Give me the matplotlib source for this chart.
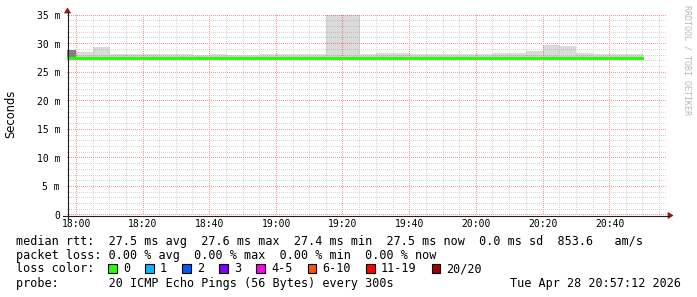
import matplotlib
matplotlib.use("Agg")
import matplotlib.pyplot as plt
import matplotlib.dates as mdates
from matplotlib.patches import Rectangle, Polygon
from matplotlib.lines import Line2D
from matplotlib.ticker import FuncFormatter, FixedLocator
from datetime import datetime, timedelta
import numpy as np

# ---------------- data ----------------
day = datetime(2026, 4, 28)
bin_minutes = 5
first_bin_end = day.replace(hour=18, minute=0)
n_bins = 35  # bins ending 18:00 ... 20:50
bin_end = [first_bin_end + timedelta(minutes=bin_minutes * i) for i in range(n_bins)]

median_ms = [27.5, 27.5, 27.5, 27.5, 27.5, 27.5, 27.5, 27.5, 27.4, 27.5,
             27.5, 27.5, 27.4, 27.4, 27.5, 27.5, 27.5, 27.5, 27.5, 27.5,
             27.5, 27.4, 27.5, 27.5, 27.5, 27.5, 27.5, 27.5, 27.5, 27.5,
             27.4, 27.5, 27.5, 27.5, 27.5]
smoke_max = [28.85, 28.6, 29.4, 28.2, 28.2, 28.2, 28.2, 28.1, 28.0, 28.2,
             28.0, 28.0, 28.2, 28.2, 28.1, 28.2, 36.0, 36.0, 28.1, 28.3,
             28.4, 28.2, 28.1, 28.1, 28.1, 28.1, 28.3, 28.3, 28.7, 29.8,
             29.5, 28.3, 28.1, 28.1, 28.1]
smoke_core = [27.95, 27.95, 28.0, 27.95, 27.95, 27.95, 27.9, 27.9, 27.85, 27.9,
              27.85, 27.85, 27.9, 27.9, 27.9, 27.9, 27.95, 27.95, 27.9, 27.95,
              27.95, 27.9, 27.9, 27.9, 27.9, 27.9, 27.95, 27.95, 27.95, 27.95,
              27.9, 27.95, 27.9, 27.9, 27.9]
smoke_min = [27.2, 27.3, 27.3, 27.3, 27.3, 27.3, 27.2, 27.2, 27.2, 27.2,
             27.2, 27.2, 27.2, 27.2, 27.2, 27.2, 27.2, 27.2, 27.2, 27.2,
             27.2, 27.2, 27.2, 27.2, 27.2, 27.2, 27.2, 27.2, 27.2, 27.2,
             27.2, 27.2, 27.2, 27.2, 27.2]
dense_top = [28.85] + [np.nan] * 34   # only the first (partial) bin shows dense smoke
loss_pings = [0] * 35

loss_labels = ["0", "1", "2", "3", "4-5", "6-10", "11-19", "20/20"]
loss_colors = ["#26ff00", "#00b8ff", "#0059ff", "#7e00ff", "#ff00ee",
               "#ff5500", "#ff0000", "#a00000"]

y_ticks = [0, 5, 10, 15, 20, 25, 30, 35]
y_minor = [v for v in range(0, 36) if v % 5 != 0]
t_start = day.replace(hour=17, minute=57, second=12)
t_end = day.replace(hour=20, minute=57, second=12)

line1 = "median rtt:  27.5 ms avg  27.6 ms max  27.4 ms min  27.5 ms now  0.0 ms sd  853.6   am/s"
line2 = "packet loss: 0.00 % avg  0.00 % max  0.00 % min  0.00 % now"
line3 = "loss color:"
line4 = "probe:       20 ICMP Echo Pings (56 Bytes) every 300s"
stamp = "Tue Apr 28 20:57:12 2026"
watermark = "RRDTOOL / TOBI OETIKER"

# ---------------- figure ----------------
W, H = 697, 297
AX_L, AX_T, AX_W, AX_H = 67, 15, 600, 200
fig = plt.figure(figsize=(W / 100, H / 100), dpi=100)
fig.patch.set_facecolor("white")


def px(x, y):
    return (x / W, 1 - y / H)


ax = fig.add_axes([AX_L / W, (H - AX_T - AX_H) / H, AX_W / W, AX_H / H])
ax.set_facecolor("white")

ends = mdates.date2num(bin_end)
width = bin_minutes / 1440.0
lo = np.array(smoke_min)
hi = np.array(smoke_max)
core = np.array(smoke_core)
dense = np.array(dense_top)

ax.bar(ends, hi - lo, bottom=lo, width=-width, align="edge",
       color="#dadada", linewidth=0, zorder=1)
ax.bar(ends, core - lo, bottom=lo, width=-width, align="edge",
       color="#cdcdcd", linewidth=0, zorder=1.1)
ax.bar(ends, dense - lo, bottom=lo, width=-width, align="edge",
       color="#808080", linewidth=0, zorder=1.2)

edges = np.concatenate([[ends[0] - width], ends])
ax.stairs(median_ms, edges, color=loss_colors[loss_pings[0]], linewidth=2.16,
          baseline=None, zorder=3, antialiased=False)

x0n, x1n = mdates.date2num(t_start), mdates.date2num(t_end)
ax.set_xlim(x0n, x1n)
ax.set_ylim(0, 35)

ax.set_yticks(y_ticks)
ax.yaxis.set_minor_locator(FixedLocator(y_minor))
ax.xaxis.set_major_locator(mdates.MinuteLocator(byminute=[0, 20, 40]))
ax.xaxis.set_minor_locator(mdates.MinuteLocator(
    byminute=[m for m in range(0, 60, 5) if m % 20 != 0]))
ax.xaxis.set_major_formatter(mdates.DateFormatter("%H:%M"))
ax.yaxis.set_major_formatter(FuncFormatter(lambda v, p: "0" if v == 0 else f"{int(v)} m"))

# ---- pixel-exact dotted grid (rrdtool style) drawn as an overlay image ----
grid = np.zeros((AX_H, AX_W, 4))
minor_rgba = (0.5, 0.5, 0.5, 0.32)
major_rgba = (1.0, 0.0, 0.0, 0.42)


def col_of(xv):
    return int(np.floor((xv - x0n) / (x1n - x0n) * AX_W))


def row_of(yv):
    return min(AX_H - 1, int(np.floor((35 - yv) / 35 * AX_H)))


for rgba, yvals, xvals in (
        (minor_rgba, ax.yaxis.get_minorticklocs(), ax.xaxis.get_minorticklocs()),
        (major_rgba, ax.yaxis.get_majorticklocs(), ax.xaxis.get_majorticklocs())):
    for yv in yvals:
        if 0 <= yv <= 35:
            grid[row_of(yv), 0::2] = rgba
    for xv in xvals:
        if x0n <= xv <= x1n:
            c = col_of(xv)
            if 0 <= c < AX_W:
                grid[0::2, c] = rgba

ax.imshow(grid, extent=(x0n, x1n, 0, 35), aspect="auto", interpolation="nearest",
          zorder=2.5, origin="upper")
ax.set_xlim(x0n, x1n)
ax.set_ylim(0, 35)

ax.tick_params(which="both", length=0)
ax.tick_params(axis="y", pad=5.0, labelsize=7)
ax.tick_params(axis="x", pad=3.0, labelsize=7)
for lab in ax.get_xticklabels() + ax.get_yticklabels():
    lab.set_family("DejaVu Sans Mono")
for s in ax.spines.values():
    s.set_visible(False)

# axis lines and arrows
fig.add_artist(Line2D([px(67.5, 0)[0]] * 2, [px(0, 219)[1], px(0, 12)[1]],
                      color="#202020", linewidth=0.8))
fig.add_artist(Line2D([px(63, 0)[0], px(669, 0)[0]], [px(0, 215.5)[1]] * 2,
                      color="#202020", linewidth=0.8))
fig.add_artist(Polygon([px(64.5, 13), px(70.5, 13), px(67.5, 8)], closed=True,
                       facecolor="#a01010", edgecolor="#a01010", linewidth=0.5))
fig.add_artist(Polygon([px(668, 212.5), px(668, 218.5), px(673, 215.5)], closed=True,
                       facecolor="#a01010", edgecolor="#a01010", linewidth=0.5))

# y label and watermark
fig.text(*px(11, 114), "Seconds", rotation=90, ha="center", va="center",
         fontsize=8.3, family="DejaVu Sans", color="#000000")
fig.text(*px(687, 60), watermark, rotation=270, ha="center", va="center",
         fontsize=6.0, family="DejaVu Sans Mono", color="#b8b8b8")

# legend text
mono = dict(family="DejaVu Sans Mono", fontsize=8.5, color="#000000", va="baseline")
base = [244.5, 258.5, 272.5, 286.5]
fig.text(*px(16, base[0]), line1, **mono)
fig.text(*px(16, base[1]), line2, **mono)
fig.text(*px(16, base[2]), line3, **mono)
fig.text(*px(16, base[3]), line4, **mono)
fig.text(*px(681, base[3]), stamp, ha="right", **mono)

char_w = 7.1
bx = 108.0
for lab, col in zip(loss_labels, loss_colors):
    xa, ya = px(bx, 273)
    xb, yb = px(bx + 8.5, 264)
    fig.add_artist(Rectangle((xa, ya), xb - xa, yb - ya, transform=fig.transFigure,
                             facecolor=col, edgecolor="#000000", linewidth=0.8))
    fig.text(*px(bx + 15, base[2]), lab, **mono)
    bx += 30 + char_w * len(lab)

fig.savefig("out.png", dpi=100, facecolor="white")
